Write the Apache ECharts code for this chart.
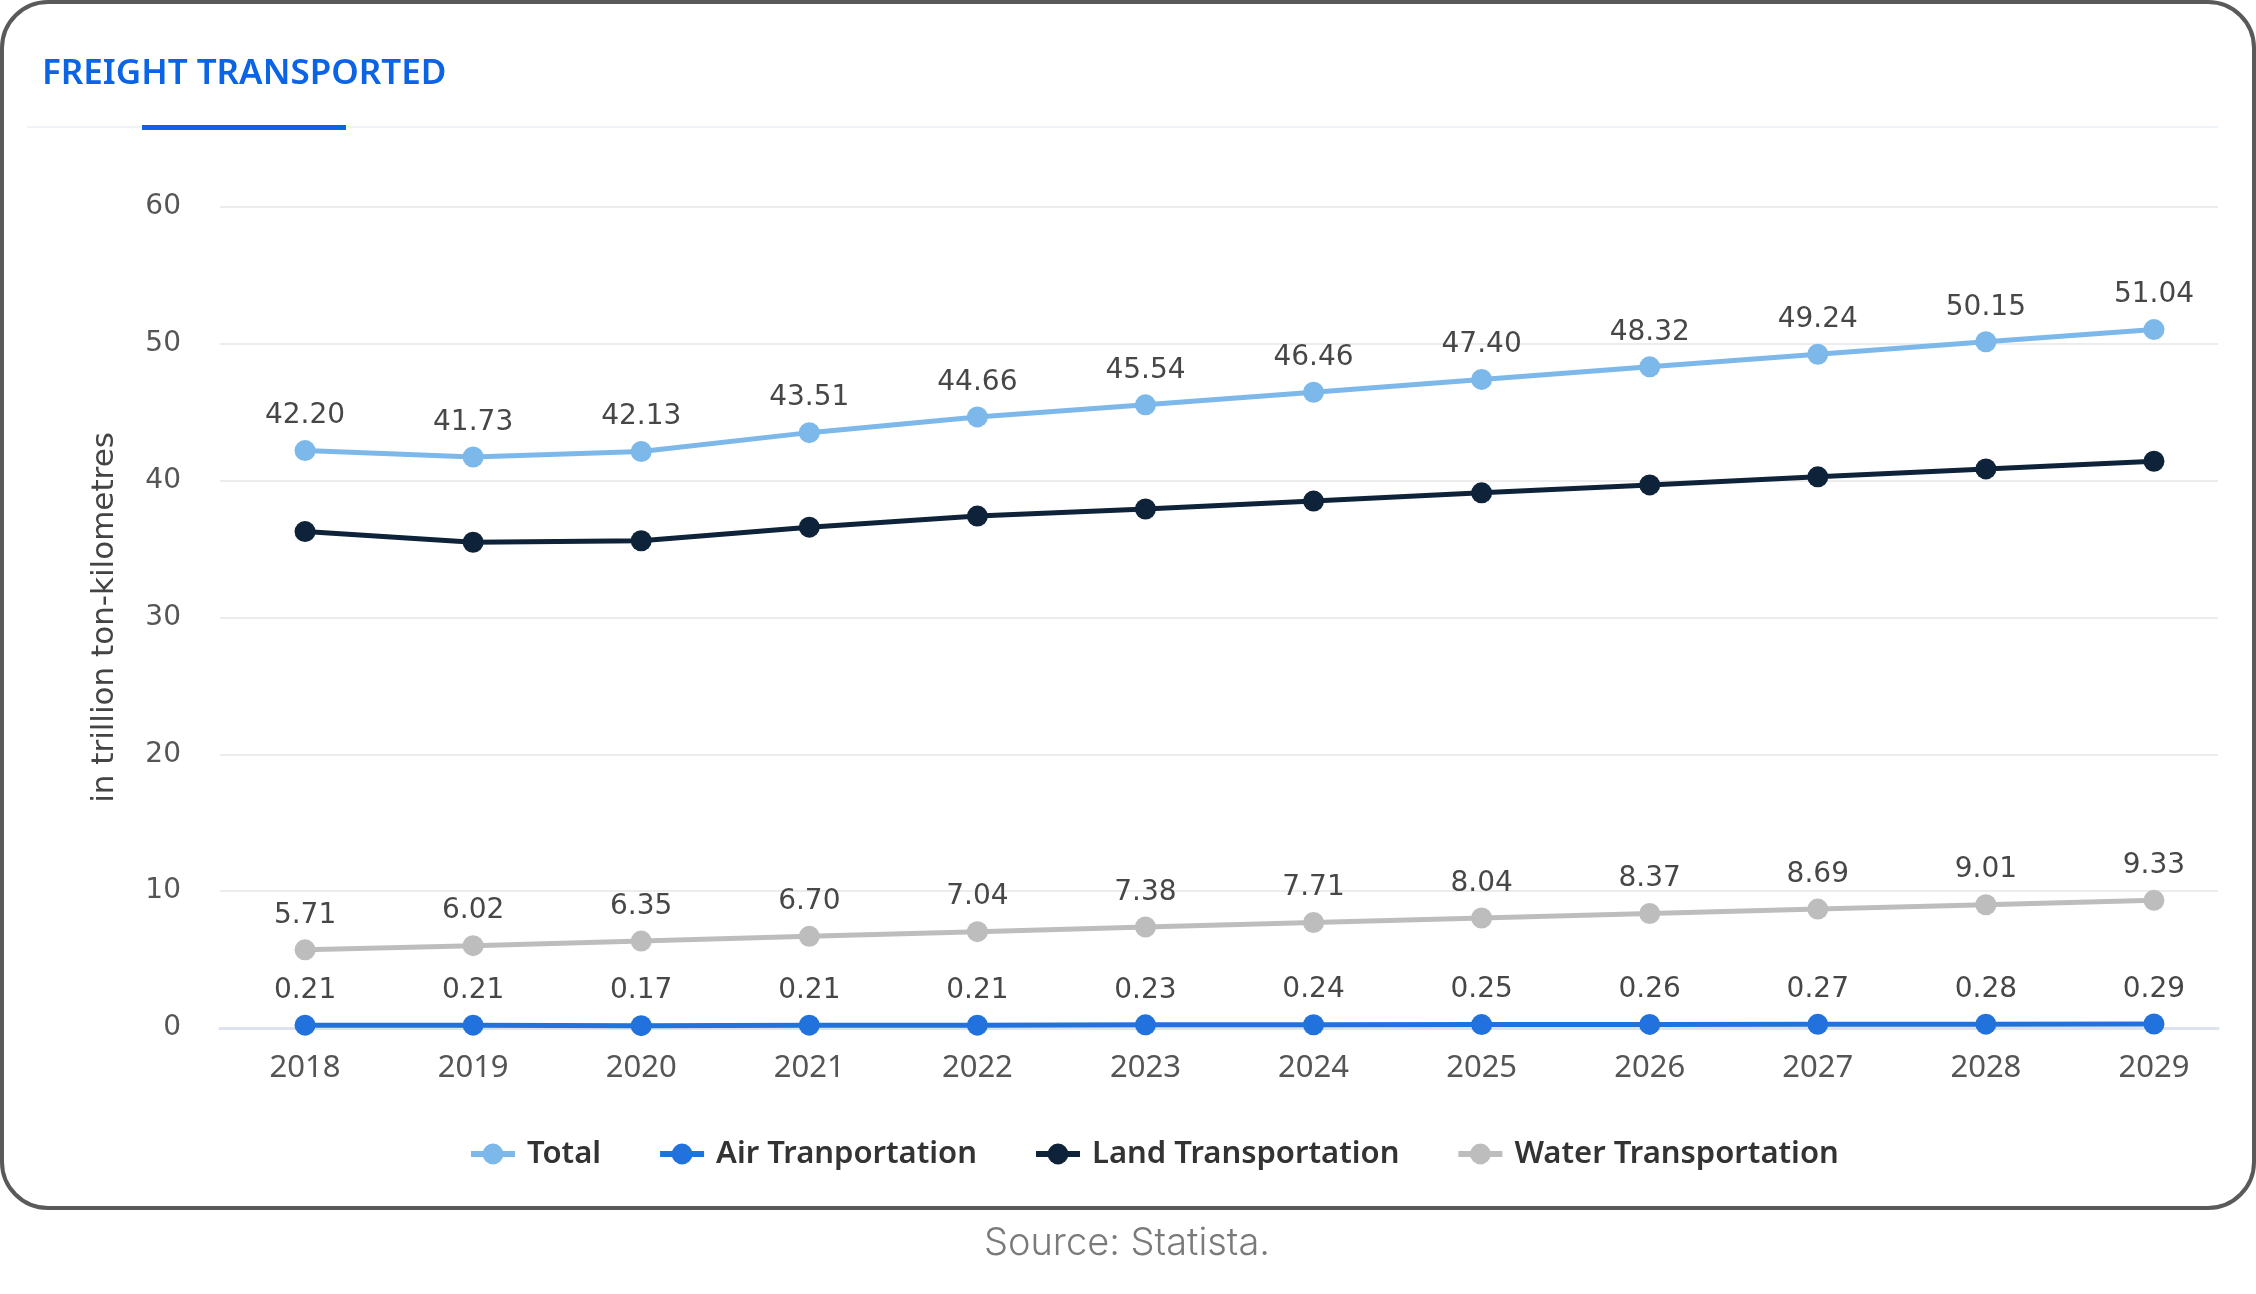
<!DOCTYPE html>
<html>
<head>
<meta charset="utf-8">
<script src="https://cdn.jsdelivr.net/npm/echarts@6/dist/echarts.min.js"></script>
<style>
  html, body { margin: 0; padding: 0; background: #ffffff; }
  #chart { width: 2256px; height: 1294px; }
</style>
</head>
<body>
<div id="chart"></div>
<script>
// ---- data ----
const years = [2018, 2019, 2020, 2021, 2022, 2023, 2024, 2025, 2026, 2027, 2028, 2029];
const total = [42.20, 41.73, 42.13, 43.51, 44.66, 45.54, 46.46, 47.40, 48.32, 49.24, 50.15, 51.04];
const air   = [0.21, 0.21, 0.17, 0.21, 0.21, 0.23, 0.24, 0.25, 0.26, 0.27, 0.28, 0.29];
const land  = [36.28, 35.50, 35.61, 36.60, 37.41, 37.93, 38.51, 39.11, 39.69, 40.28, 40.86, 41.42];
const water = [5.71, 6.02, 6.35, 6.70, 7.04, 7.38, 7.71, 8.04, 8.37, 8.69, 9.01, 9.33];
const yTicks = [0, 10, 20, 30, 40, 50, 60];
const seriesNames = ['Total', 'Air Tranportation', 'Land Transportation', 'Water Transportation'];
const titleText = 'FREIGHT TRANSPORTED';
const yAxisName = 'in trillion ton-kilometres';
const sourceText = 'Source: Statista.';

const pairs = arr => years.map((y, i) => [y, arr[i]]);

const labelStyle = {
  show: true,
  position: 'top',
  distance: 10,
  fontFamily: 'DejaVu Sans',
  fontSize: 28,
  color: '#474747',
  formatter: p => p.value[1].toFixed(2)
};

function lineSeries(name, data, color, withLabel, z) {
  return {
    name: name,
    type: 'line',
    data: pairs(data),
    symbol: 'circle',
    symbolSize: 21,
    z: z,
    lineStyle: { color: color, width: 5 },
    itemStyle: { color: color },
    label: withLabel ? labelStyle : { show: false },
    emphasis: { disabled: true },
    animation: false
  };
}

const chart = echarts.init(document.getElementById('chart'), null, { renderer: 'canvas' });
chart.setOption({
  backgroundColor: '#ffffff',
  animation: false,
  title: {
    text: titleText,
    left: 42,
    top: 55,
    padding: 0,
    textStyle: {
      fontFamily: 'Noto Sans',
      fontSize: 35,
      fontWeight: 600,
      color: '#0b63e5',
      lineHeight: 38
    }
  },
  graphic: [
    {
      type: 'rect', z: -10, silent: true,
      shape: { x: 2, y: 2, width: 2252, height: 1206, r: 46 },
      style: { fill: '#ffffff', stroke: '#5a5a5a', lineWidth: 4 }
    },
    {
      type: 'rect', z: 1, silent: true,
      shape: { x: 27, y: 126, width: 2191, height: 2 },
      style: { fill: '#eef3fa' }
    },
    {
      type: 'rect', z: 2, silent: true,
      shape: { x: 142, y: 125, width: 204, height: 5 },
      style: { fill: '#0b63e5' }
    },
    {
      type: 'text', z: 2, silent: true,
      x: 1127, y: 1244,
      style: {
        text: sourceText,
        fontFamily: 'Inter',
        fontWeight: 300,
        fontSize: 38,
        fill: '#7a7a7a',
        align: 'center',
        verticalAlign: 'middle'
      }
    }
  ],
  legend: {
    data: seriesNames,
    left: 463,
    top: 1129,
    itemWidth: 44,
    itemHeight: 26,
    itemGap: 56,
    selectedMode: false,
    lineStyle: { width: 6 },
    textStyle: {
      fontFamily: 'Noto Sans',
      fontSize: 31,
      fontWeight: 600,
      color: '#333333',
      lineHeight: 40,
      padding: [0, 0, 0, 7]
    }
  },
  grid: { left: 220, right: 38, top: 207, bottom: 266, containLabel: false },
  xAxis: {
    type: 'value',
    min: 2017.494,
    max: 2029.381,
    axisLine: { show: true, lineStyle: { color: '#dce3ef', width: 3 } },
    axisTick: { show: false },
    splitLine: { show: false },
    axisLabel: {
      customValues: years,
      formatter: v => String(v),
      margin: 25,
      fontFamily: 'Noto Sans',
      fontSize: 31,
      color: '#555555'
    }
  },
  yAxis: {
    type: 'value',
    min: yTicks[0],
    max: yTicks[yTicks.length - 1],
    interval: 10,
    name: yAxisName,
    nameLocation: 'middle',
    nameGap: 100,
    nameTextStyle: {
      fontFamily: 'DejaVu Sans',
      fontSize: 31,
      color: '#444444'
    },
    axisLine: { show: false },
    axisTick: { show: false },
    splitLine: { lineStyle: { color: '#ececec', width: 2 } },
    axisLabel: {
      margin: 39,
      fontFamily: 'DejaVu Sans',
      fontSize: 28,
      color: '#555555'
    }
  },
  series: [
    lineSeries(seriesNames[0], total, '#7cb8ea', true, 3),
    lineSeries(seriesNames[1], air, '#2172dd', true, 4),
    lineSeries(seriesNames[2], land, '#0e2239', false, 3),
    lineSeries(seriesNames[3], water, '#bdbdbd', true, 3)
  ]
});
</script>
</body>
</html>
